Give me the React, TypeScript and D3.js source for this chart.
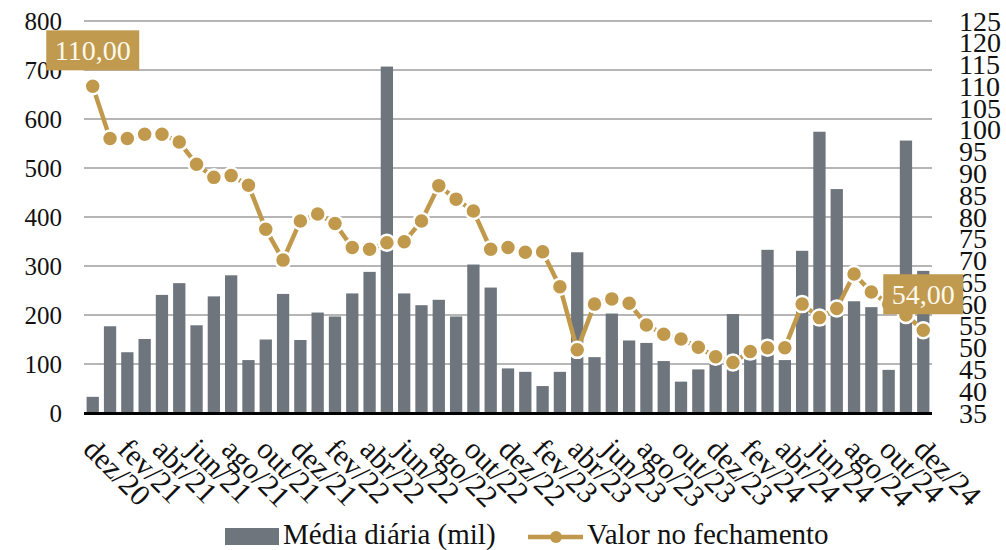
import * as d3 from "d3";
import React, { useEffect, useRef } from "react";

// meses (dez/20 .. dez/24)
const meses = [
  "dez/20", "jan/21", "fev/21", "mar/21", "abr/21", "mai/21", "jun/21", "jul/21", "ago/21", "set/21", "out/21", "nov/21",
  "dez/21", "jan/22", "fev/22", "mar/22", "abr/22", "mai/22", "jun/22", "jul/22", "ago/22", "set/22", "out/22", "nov/22",
  "dez/22", "jan/23", "fev/23", "mar/23", "abr/23", "mai/23", "jun/23", "jul/23", "ago/23", "set/23", "out/23", "nov/23",
  "dez/23", "jan/24", "fev/24", "mar/24", "abr/24", "mai/24", "jun/24", "jul/24", "ago/24", "set/24", "out/24", "nov/24",
  "dez/24",
];

// Média diária (mil)
const mediaDiaria = [
  33, 177, 124, 151, 241, 265, 179, 238, 281, 108, 150, 243,
  149, 205, 197, 244, 288, 707, 244, 220, 231, 197, 303, 256,
  91, 84, 55, 84, 328, 114, 203, 148, 143, 106, 64, 89,
  100, 202, 110, 333, 108, 331, 574, 457, 228, 216, 88, 556,
  290,
];

// Valor no fechamento
const valorFechamento = [
  110, 98, 98, 99, 99, 97.2, 92.1, 89.1, 89.5, 87.3, 77.2, 70.1,
  79.1, 80.7, 78.5, 73, 72.6, 74.1, 74.3, 79.1, 87.2, 84.1, 81.4, 72.6,
  73, 71.9, 72, 64, 49.5, 60, 61.2, 60.2, 55.2, 53.1, 52, 50.1,
  47.9, 46.6, 49.1, 50, 50, 60, 56.9, 59, 66.9, 62.8, 60, 57.5,
  54,
];

const leftTicks = [0, 100, 200, 300, 400, 500, 600, 700, 800];
const rightTicks = d3.range(35, 126, 5);
const rotulos = [
  { idx: 0, texto: "110,00" },
  { idx: 48, texto: "54,00" },
];

const BAR = "#6e757c";
const GOLD = "#c1994c";
const FONT = "'Liberation Serif', 'Times New Roman', serif";

export default function App() {
  const ref = useRef<SVGSVGElement>(null);

  useEffect(() => {
    const svg = d3.select(ref.current);
    svg.selectAll("*").remove();

    const left = 84, right = 932, top = 21, bottom = 413;

    const x = d3.scaleBand<string>().domain(meses).range([left, right])
      .paddingInner(0.29).paddingOuter(0.15);
    const yL = d3.scaleLinear().domain([0, 800]).range([bottom, top]);
    const yR = d3.scaleLinear().domain([35, 125]).range([bottom, top]);
    const cx = (i: number) => (x(meses[i]) as number) + x.bandwidth() / 2;

    // gridlines
    svg.append("g").selectAll("line").data(leftTicks.filter((t) => t > 0)).join("line")
      .attr("x1", left).attr("x2", right)
      .attr("y1", (d) => yL(d)).attr("y2", (d) => yL(d))
      .attr("stroke", "#9e9e9e").attr("stroke-width", 1.6);

    // left axis labels
    svg.append("g").selectAll("text").data(leftTicks).join("text")
      .attr("x", 62).attr("y", (d) => yL(d))
      .attr("text-anchor", "end").attr("dominant-baseline", "central")
      .style("font-family", FONT).style("font-size", "25px").attr("fill", "#111")
      .text((d) => d);

    // right axis labels
    svg.append("g").selectAll("text").data(rightTicks).join("text")
      .attr("x", 959).attr("y", (d) => yR(d))
      .attr("dominant-baseline", "central")
      .style("font-family", FONT).style("font-size", "28px").attr("fill", "#111")
      .text((d) => d);

    // bars
    svg.append("g").selectAll("rect").data(mediaDiaria).join("rect")
      .attr("x", (_, i) => x(meses[i]) as number)
      .attr("y", (d) => yL(d))
      .attr("width", x.bandwidth())
      .attr("height", (d) => yL(0) - yL(d))
      .attr("fill", BAR);

    // base axis
    svg.append("line").attr("x1", left).attr("x2", right)
      .attr("y1", bottom + 0.5).attr("y2", bottom + 0.5)
      .attr("stroke", "#000").attr("stroke-width", 3);

    // x labels (every other month)
    svg.append("g").selectAll("text").data(meses.filter((_, i) => i % 2 === 0)).join("text")
      .attr("transform", (d) => `translate(${(x(d) as number) + x.bandwidth() / 2 - 11},451) rotate(45)`)
      .style("font-family", FONT).style("font-size", "30px").attr("fill", "#111")
      .text((d) => d);

    // line
    const line = d3.line<number>().x((_, i) => cx(i)).y((d) => yR(d));
    svg.append("path").datum(valorFechamento).attr("d", line)
      .attr("fill", "none").attr("stroke", GOLD).attr("stroke-width", 4.5);

    svg.append("g").selectAll("circle").data(valorFechamento).join("circle")
      .attr("cx", (_, i) => cx(i)).attr("cy", (d) => yR(d)).attr("r", 8)
      .attr("fill", GOLD).attr("stroke", "#fff").attr("stroke-width", 2.5);

    // data labels
    rotulos.forEach((r) => {
      const px = cx(r.idx), py = yR(valorFechamento[r.idx]);
      const g = svg.append("g");
      const rect = g.append("rect").attr("fill", "#c09a4e");
      const t = g.append("text").attr("x", px).attr("y", py - 26)
        .attr("text-anchor", "middle")
        .style("font-family", FONT).style("font-size", "28px").attr("fill", "#fdf8ea")
        .text(r.texto);
      const w = (t.node() as SVGTextElement).getComputedTextLength() + 17;
      rect.attr("x", px - w / 2).attr("y", py - 56).attr("width", w).attr("height", 40);
    });

    // legend
    const lg = svg.append("g").style("font-family", FONT).style("font-size", "29px").attr("fill", "#111");
    lg.append("rect").attr("x", 225).attr("y", 528).attr("width", 54).attr("height", 17).attr("fill", BAR);
    lg.append("text").attr("x", 283).attr("y", 544).text("Média diária (mil)");
    lg.append("line").attr("x1", 528).attr("x2", 583).attr("y1", 537).attr("y2", 537)
      .attr("stroke", GOLD).attr("stroke-width", 4.5);
    lg.append("circle").attr("cx", 556).attr("cy", 537).attr("r", 6).attr("fill", GOLD);
    lg.append("text").attr("x", 587).attr("y", 544).text("Valor no fechamento");
  }, []);

  return (
    <svg ref={ref} width={1006} height={550}
      style={{ position: "absolute", left: 0, top: 0, background: "#fff" }} />
  );
}
